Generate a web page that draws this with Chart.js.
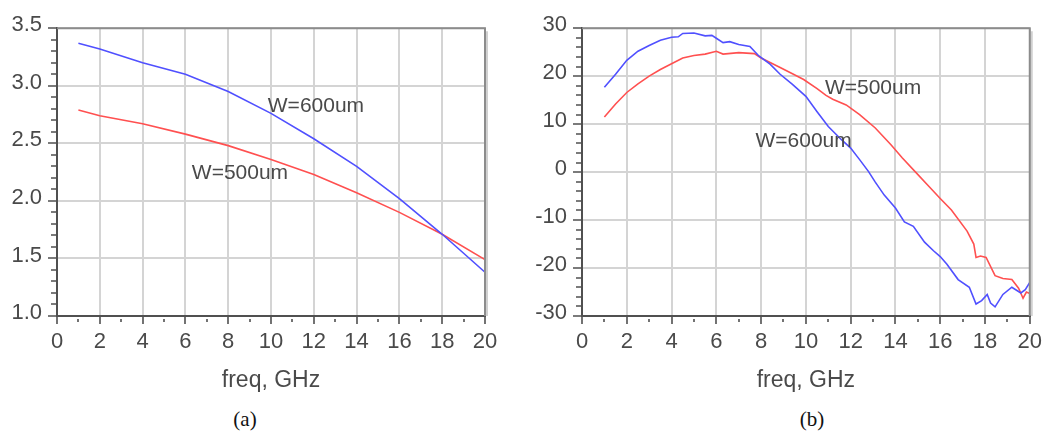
<!DOCTYPE html>
<html>
<head>
    <meta charset="UTF-8">
    <title>freq plots (a) (b)</title>
    <script src="https://cdn.jsdelivr.net/npm/chart.js@4.4.1/dist/chart.umd.min.js"></script>
    <style type="text/css">
        body { margin: 0; background: #fff; width: 1055px; height: 432px; position: relative; overflow: hidden; }
        .panel { position: absolute; top: 0; height: 400px; }
        .cap { position: absolute; top: 407px; width: 60px; text-align: center;
               font-family: 'Liberation Serif', serif; font-size: 21px; color: #111; }
    </style>
</head>
<body>

<div class="panel" style="left:0; width:525px;"><canvas id="chartA" width="525" height="400"></canvas></div>
<div class="panel" style="left:530px; width:525px;"><canvas id="chartB" width="525" height="400"></canvas></div>
<div class="cap" style="left:215px;">(a)</div>
<div class="cap" style="left:782px;">(b)</div>

<script>
    // ---- panel (a) ----
    const freqA = [1, 2, 4, 6, 8, 10, 12, 14, 16, 18, 20];
    const w600A = [3.37, 3.32, 3.20, 3.10, 2.95, 2.76, 2.54, 2.30, 2.02, 1.71, 1.38];
    const w500A = [2.79, 2.74, 2.67, 2.58, 2.48, 2.36, 2.23, 2.07, 1.90, 1.71, 1.49];
    const yTicksA = [1.0, 3.5, 0.5];          // min, max, step
    const notesA = [['W=600um', 12.1, 2.82], ['W=500um', 8.55, 2.24]];

    // ---- panel (b) ----
    const freqB600 = [1, 1.5, 2, 2.5, 3, 3.5, 4, 4.3, 4.5, 5, 5.5, 5.8, 6, 6.3, 6.6, 7, 7.5, 7.9, 8.4, 8.85,
                      9.4, 10, 10.5, 11, 11.6, 12, 12.4, 12.8, 13.1, 13.5, 14, 14.4, 14.8, 15.3, 15.7, 16,
                      16.3, 16.8, 17.3, 17.6, 17.85, 18.1, 18.25, 18.45, 18.8, 19.2, 19.6, 19.8, 20];
    const w600B = [17.7, 20.4, 23.3, 25.2, 26.4, 27.5, 28.1, 28.2, 28.9, 29.0, 28.4, 28.5, 27.9, 27.0, 27.2, 26.6,
                   26.2, 24.2, 22.5, 20.4, 18.3, 15.8, 12.6, 9.5, 6.7, 5.0, 2.6, 0.1, -2.1, -4.8, -7.5, -10.4,
                   -11.3, -14.6, -16.4, -17.6, -19.2, -22.4, -24.0, -27.5, -26.8, -25.5, -27.3, -28.1, -25.5,
                   -24.0, -25.2, -24.5, -23.0];
    const freqB500 = [1, 1.5, 2, 2.5, 3, 3.5, 4, 4.5, 5, 5.5, 6, 6.3, 7, 7.7, 8, 8.85, 9.4, 9.9, 10.5, 10.9,
                      11.2, 11.8, 12.4, 13.1, 13.8, 14.3, 14.9, 15.5, 16, 16.5, 17.2, 17.5, 17.6, 17.8, 18.05,
                      18.45, 18.8, 19.2, 19.5, 19.7, 19.85, 20];
    const w500B = [11.5, 14.2, 16.6, 18.4, 20.0, 21.4, 22.6, 23.8, 24.3, 24.6, 25.2, 24.6, 24.9, 24.7, 23.8, 21.8,
                   20.5, 19.3, 17.4, 16.0, 15.2, 14.0, 12.0, 9.2, 5.7, 3.0, 0.0, -3.0, -5.5, -7.9, -12.3, -15.0,
                   -17.8, -17.5, -17.8, -21.6, -22.2, -22.4, -24.2, -26.3, -25.0, -25.3];
    const yTicksB = [-30, 30, 10];
    const notesB = [['W=500um', 13.0, 17.4], ['W=600um', 9.9, 6.4]];

    const xTicks = [0, 20, 2];

    const BLUE = '#5050ff';
    const RED = '#ff5050';
    const TXT = '#4a4a4a';
    const SANS = "'Liberation Sans', Arial, sans-serif";

    // frame, minor/major tick marks and the curve labels
    const decor = {
        id: 'decor',
        afterDraw(chart, args, opts) {
            const { ctx, chartArea: a, scales: { x, y } } = chart;
            ctx.save();
            ctx.lineWidth = 2;
            ctx.strokeStyle = '#d0d0d0';
            ctx.beginPath();
            ctx.moveTo(a.right + 2, a.top + 3);
            ctx.lineTo(a.right + 2, a.bottom);
            ctx.stroke();
            ctx.strokeStyle = '#8c8c8c';
            ctx.beginPath();
            ctx.moveTo(a.left, a.top);
            ctx.lineTo(a.right, a.top);
            ctx.lineTo(a.right, a.bottom);
            ctx.stroke();

            ctx.strokeStyle = '#505050';
            ctx.lineWidth = 1.6;
            ctx.beginPath();
            for (let v = x.min; v <= x.max + 1e-9; v += opts.xMinor) {
                const px = Math.round(x.getPixelForValue(v));
                const major = Math.abs(v / opts.xMajor - Math.round(v / opts.xMajor)) < 1e-6;
                ctx.moveTo(px, a.bottom + (major ? 0 : 3));
                ctx.lineTo(px, a.bottom + (major ? 8 : 6));
            }
            for (let v = y.min; v <= y.max + 1e-9; v += opts.yMinor) {
                const py = Math.round(y.getPixelForValue(v));
                const major = Math.abs(v / opts.yMajor - Math.round(v / opts.yMajor)) < 1e-6;
                ctx.moveTo(a.left, py);
                ctx.lineTo(a.left - (major ? 9 : 6), py);
            }
            ctx.stroke();

            ctx.fillStyle = TXT;
            ctx.font = '21px ' + SANS;
            ctx.textAlign = 'center';
            ctx.textBaseline = 'middle';
            opts.notes.forEach(n => {
                ctx.fillText(n[0], x.getPixelForValue(n[1]), y.getPixelForValue(n[2]));
            });
            ctx.restore();
        }
    };

    function pts(xs, ys) {
        return xs.map((v, i) => ({ x: v, y: ys[i] }));
    }

    function makeChart(id, sets, yT, decimals, pad, yWidth, notes, yMinor) {
        const ctx = document.getElementById(id).getContext('2d');
        return new Chart(ctx, {
            type: 'line',
            data: {
                datasets: sets.map(s => ({
                    data: s.data,
                    borderColor: s.color,
                    borderWidth: 1.6,
                    pointRadius: 0,
                    tension: 0,
                    fill: false
                }))
            },
            options: {
                responsive: false,
                animation: false,
                layout: { padding: pad },
                plugins: {
                    legend: { display: false },
                    tooltip: { enabled: false },
                    decor: { xMinor: 1, xMajor: 2, yMinor: yMinor, yMajor: yT[2], notes: notes }
                },
                scales: {
                    x: {
                        type: 'linear',
                        min: xTicks[0], max: xTicks[1],
                        afterFit: s => { s.height = 400 - pad.bottom - 316; },
                        ticks: { stepSize: xTicks[2], color: TXT, padding: 13, font: { family: SANS, size: 22 } },
                        grid: { color: '#d4d4d4', lineWidth: 2, drawTicks: false },
                        border: { color: '#505050', width: 2 },
                        title: { display: true, text: 'freq, GHz', color: TXT, padding: { top: 0, bottom: 6 },
                                 font: { family: SANS, size: 23 } }
                    },
                    y: {
                        min: yT[0], max: yT[1],
                        afterFit: s => { s.width = yWidth; },
                        ticks: { stepSize: yT[2], color: TXT, padding: 15, labelOffset: -3,
                                 font: { family: SANS, size: 22 },
                                 callback: v => v.toFixed(decimals) },
                        grid: { color: '#d4d4d4', lineWidth: 2, drawTicks: false },
                        border: { color: '#505050', width: 2 }
                    }
                }
            },
            plugins: [decor]
        });
    }

    makeChart('chartA',
        [{ data: pts(freqA, w600A), color: BLUE }, { data: pts(freqA, w500A), color: RED }],
        yTicksA, 1, { left: 0, right: 40, top: 23, bottom: 0 }, 57, notesA, 0.1);

    makeChart('chartB',
        [{ data: pts(freqB600, w600B), color: BLUE }, { data: pts(freqB500, w500B), color: RED }],
        yTicksB, 0, { left: 0, right: 18, top: 21, bottom: 0 }, 52, notesB, 2);
</script>

</body>
</html>
